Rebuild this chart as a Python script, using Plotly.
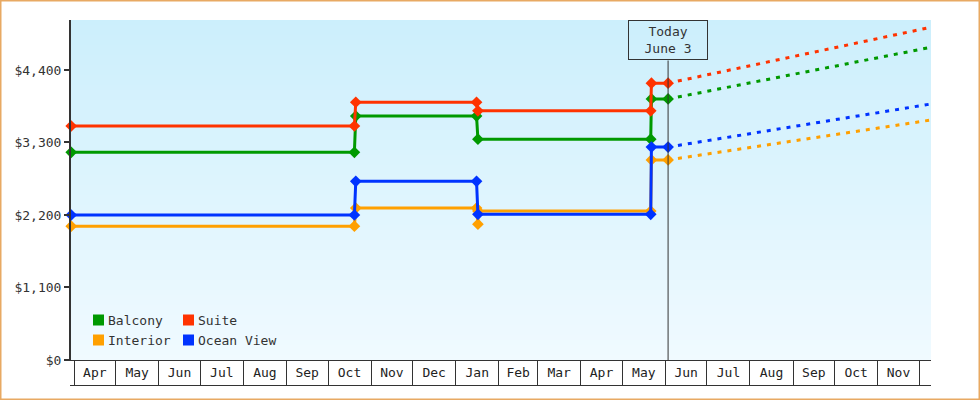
import plotly.graph_objects as go

# ---------------- data ----------------
interior_dates = ["2022-03-30", "2022-10-20", "2022-10-21", "2023-01-16", "2023-01-17", "2023-01-17",
                  "2023-05-21 12:00", "2023-05-22", "2023-06-03"]
interior_vals = [2030, 2030, 2305, 2305, 2060, 2260, 2260, 3035, 3035]

balcony_dates = ["2022-03-30", "2022-10-20", "2022-10-21", "2023-01-16", "2023-01-17",
                 "2023-05-21 12:00", "2023-05-22", "2023-06-03"]
balcony_vals = [3150, 3150, 3700, 3700, 3350, 3350, 3960, 3960]

ocean_dates = ["2022-03-30", "2022-10-20", "2022-10-21", "2023-01-16", "2023-01-17",
               "2023-05-21 12:00", "2023-05-22", "2023-06-03"]
ocean_vals = [2200, 2200, 2710, 2710, 2210, 2210, 3230, 3230]

suite_dates = ["2022-03-30", "2022-10-20", "2022-10-21", "2023-01-16", "2023-01-17",
               "2023-05-21 12:00", "2023-05-22", "2023-06-03"]
suite_vals = [3550, 3550, 3910, 3910, 3780, 3780, 4200, 4200]

proj_dates = ["2023-06-03", "2023-12-09 10:00"]
interior_proj = [3035, 3641]
balcony_proj = [3960, 4744]
ocean_proj = [3230, 3884]
suite_proj = [4200, 5048]

series_names = ["Balcony", "Suite", "Interior", "Ocean View"]
y_tick_vals = [0, 1100, 2200, 3300, 4400]
y_tick_text = ["$0", "$1,100", "$2,200", "$3,300", "$4,400"]
today = "2023-06-03"
today_label = "Today<br>June 3"

# ---------------- style ----------------
COL = {"Balcony": "#009900", "Suite": "#FF3300", "Interior": "#FFA000", "Ocean View": "#0033FF"}
FONT = "DejaVu Sans Mono"
INK = "#333333"

fig = go.Figure()

def add_series(name, dates, vals, pdates, pvals):
    fig.add_trace(go.Scatter(x=dates, y=vals, mode="lines+markers", name=name,
                             line=dict(color=COL[name], width=3),
                             marker=dict(symbol="diamond", size=9, color=COL[name]),
                             cliponaxis=False, showlegend=False, hoverinfo="skip"))
    fig.add_trace(go.Scatter(x=pdates, y=pvals, mode="lines", name=name + " projection",
                             line=dict(color=COL[name], width=3, dash="4px,6px"),
                             showlegend=False, hoverinfo="skip"))

add_series("Interior", interior_dates, interior_vals, proj_dates, interior_proj)
add_series("Balcony", balcony_dates, balcony_vals, proj_dates, balcony_proj)
add_series("Ocean View", ocean_dates, ocean_vals, proj_dates, ocean_proj)
add_series("Suite", suite_dates, suite_vals, proj_dates, suite_proj)

W, H = 980, 400
L, R, T, B = 71, 49, 20, 40
PW, PH = W - L - R, H - T - B

def px_x(x):
    return (x - L) / PW

def px_y(y):
    return (H - B - y) / PH

shapes = []
# gradient background
top = (204, 239, 252)
bot = (240, 250, 255)
N = 68
for i in range(N):
    f = i / (N - 1)
    c = tuple(round(bot[k] + (top[k] - bot[k]) * f) for k in range(3))
    shapes.append(dict(type="rect", xref="paper", yref="paper", x0=0, x1=1,
                       y0=i / N, y1=min(1, (i + 1.6) / N), line=dict(width=0),
                       fillcolor="rgb(%d,%d,%d)" % c, layer="below"))
# today line
shapes.append(dict(type="line", xref="x", yref="paper", x0=today, x1=today,
                   y0=0, y1=px_y(60.5), line=dict(color=INK, width=1)))
# bottom line of month boxes
shapes.append(dict(type="line", xref="paper", yref="paper", x0=px_x(70), x1=1,
                   y0=px_y(385.5), y1=px_y(385.5), line=dict(color=INK, width=1)))
# outer border
shapes.append(dict(type="rect", xref="paper", yref="paper", x0=px_x(0.75), x1=px_x(979.25),
                   y0=px_y(399.25), y1=px_y(0.75), line=dict(color="#E8A963", width=1.5)))

annotations = []
# legend (manual, 2 columns)
legend_pos = {"Balcony": (93, 314.5), "Suite": (183, 314.5),
              "Interior": (93, 334.5), "Ocean View": (183, 334.5)}
for name in series_names:
    x0, y0 = legend_pos[name]
    shapes.append(dict(type="rect", xref="paper", yref="paper",
                       x0=px_x(x0), x1=px_x(x0 + 11), y0=px_y(y0 + 11), y1=px_y(y0),
                       line=dict(width=0), fillcolor=COL[name]))
    annotations.append(dict(xref="paper", yref="paper", x=px_x(x0 + 13), y=px_y(y0 + 5.5),
                            xanchor="left", yanchor="middle", text=name, showarrow=False,
                            font=dict(family=FONT, size=13, color=INK)))
# today box
annotations.append(dict(xref="x", yref="paper", x=today, y=1, xanchor="center", yanchor="top",
                        text=today_label, showarrow=False, width=78, height=38,
                        bordercolor=INK, borderwidth=1, borderpad=0, bgcolor="rgba(0,0,0,0)",
                        font=dict(family=FONT, size=13, color=INK)))

fig.update_layout(
    width=W, height=H, margin=dict(l=L, r=R, t=T, b=B),
    paper_bgcolor="white", plot_bgcolor="white",
    shapes=shapes, annotations=annotations, showlegend=False,
    font=dict(family=FONT, size=13, color=INK),
    xaxis=dict(type="date", range=["2022-03-29 20:00", "2023-12-09 10:00"],
               tick0="2022-04-01", dtick="M1", tickformat="%b", ticklabelmode="period",
               ticks="outside", ticklen=25, tickwidth=1, tickcolor=INK,
               showline=True, linecolor=INK, linewidth=1, showgrid=False, zeroline=False,
               ticklabelstandoff=-25,
               tickfont=dict(family=FONT, size=13, color="#222222")),
    yaxis=dict(range=[0, 5158], tickvals=y_tick_vals, ticktext=y_tick_text,
               ticks="outside", ticklen=5, tickwidth=2, tickcolor=INK,
               showline=True, linecolor=INK, linewidth=2, showgrid=False, zeroline=False,
               tickfont=dict(family=FONT, size=13, color=INK)),
)

fig.write_html("out.html")
